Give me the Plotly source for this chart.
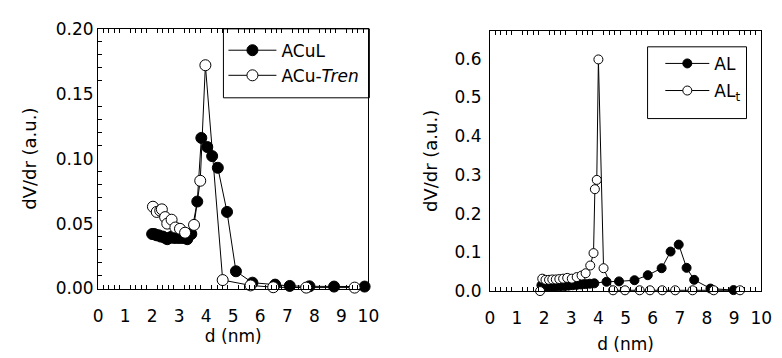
import plotly.graph_objects as go

# Left panel
acul_x = [2.00, 2.08, 2.16, 2.24, 2.32, 2.40, 2.48, 2.56, 2.64, 2.72, 2.80, 2.90, 3.00, 3.10, 3.20, 3.30, 3.45, 3.67, 3.82, 4.04, 4.22, 4.43, 4.77, 5.10, 5.71, 6.55, 7.09, 7.82, 8.73, 9.86]
acul_y = [0.042, 0.042, 0.041, 0.041, 0.040, 0.040, 0.039, 0.038, 0.039, 0.040, 0.039, 0.039, 0.039, 0.039, 0.039, 0.038, 0.042, 0.067, 0.116, 0.109, 0.102, 0.093, 0.059, 0.0133, 0.0045, 0.003, 0.002, 0.0017, 0.0015, 0.0015]
tren_x = [2.03, 2.17, 2.30, 2.36, 2.48, 2.56, 2.72, 2.86, 3.03, 3.22, 3.55, 3.78, 3.97, 4.61, 5.64, 6.48, 7.70, 9.49]
tren_y = [0.063, 0.059, 0.060, 0.061, 0.055, 0.050, 0.053, 0.047, 0.046, 0.043, 0.049, 0.083, 0.172, 0.0065, 0.0024, 0.001, 0.0007, 0.0007]

# Right panel
al_x = [1.90, 2.00, 2.10, 2.22, 2.35, 2.48, 2.62, 2.76, 2.90, 3.05, 3.20, 3.36, 3.52, 3.68, 3.85, 4.30, 4.76, 5.33, 5.82, 6.33, 6.66, 6.96, 7.25, 7.53, 8.13, 8.98]
al_y = [0.015, 0.013, 0.012, 0.012, 0.012, 0.012, 0.013, 0.013, 0.014, 0.015, 0.016, 0.017, 0.018, 0.019, 0.020, 0.024, 0.025, 0.028, 0.041, 0.059, 0.102, 0.120, 0.060, 0.029, 0.0065, 0.0025]
alt_x = [1.85, 1.93, 2.05, 2.18, 2.30, 2.43, 2.56, 2.70, 2.85, 3.02, 3.20, 3.38, 3.53, 3.70, 3.82, 3.87, 3.94, 4.00, 4.19, 4.54, 4.98, 5.52, 5.90, 6.35, 6.83, 7.47, 8.25, 9.22]
alt_y = [0.000, 0.032, 0.029, 0.029, 0.030, 0.030, 0.031, 0.032, 0.034, 0.032, 0.036, 0.040, 0.046, 0.066, 0.098, 0.263, 0.287, 0.598, 0.059, 0.002, 0.002, 0.002, 0.002, 0.002, 0.002, 0.002, 0.002, 0.002]

W, H = 782, 358
FONT = "DejaVu Sans"
CLEAR = "rgba(0,0,0,0)"

fig = go.Figure()

def add(x, y, name, filled, xa, ya, legend, group, size):
    fig.add_trace(go.Scatter(
        x=x, y=y, name=name, mode="lines+markers", xaxis=xa, yaxis=ya,
        legend=legend, legendgroup=group, cliponaxis=False,
        line=dict(color="black", width=1),
        marker=dict(size=size, color="black" if filled else "white",
                    line=dict(color="black", width=1)),
    ))

add(acul_x, acul_y, "ACuL", True, "x", "y", "legend", "a", 11)
add(tren_x, tren_y, "ACu-<i>Tren</i>", False, "x", "y", "legend", "b", 11)
add(al_x, al_y, "AL", True, "x2", "y2", "legend2", "c", 9)
add(alt_x, alt_y, "AL<sub>t</sub>", False, "x2", "y2", "legend2", "d", 9)

def xd(a, b):
    return [a / W, b / W]

def yd(top, bottom):
    return [(H - bottom) / H, (H - top) / H]

def xaxis_cfg(dom, anchor, standoff):
    return dict(domain=dom, anchor=anchor, range=[0, 10], dtick=1, tick0=0, showline=True,
                linecolor="black", linewidth=1, mirror="ticks",
                ticks="inside", ticklen=4, tickcolor=CLEAR, showgrid=False,
                zeroline=False, ticklabelstandoff=12,
                tickfont=dict(family=FONT, size=17, color="black"),
                minor=dict(ticks="inside", ticklen=4, dtick=0.2, tickcolor="black", showgrid=False),
                title=dict(text="d (nm)", font=dict(family=FONT, size=17, color="black"), standoff=standoff))

fig.update_layout(
    width=W, height=H, margin=dict(l=0, r=0, t=0, b=0),
    paper_bgcolor="white", plot_bgcolor="white",
    font=dict(family=FONT, size=16, color="black"),
    xaxis=xaxis_cfg(xd(95, 371), "y", 4),
    yaxis=dict(domain=yd(20, 295), anchor="x", range=[0, 0.2], dtick=0.05, tickformat=".2f",
               showline=True, linecolor="black", linewidth=1, mirror=True,
               ticks="inside", ticklen=4, tickcolor=CLEAR,
               showgrid=False, zeroline=False, ticklabelstandoff=0,
               tickfont=dict(family=FONT, size=17, color="black"),
               minor=dict(ticks="inside", ticklen=4, dtick=0.01, tickcolor="black", showgrid=False),
               title=dict(text="dV/dr (a.u.)", font=dict(family=FONT, size=18, color="black"), standoff=14)),
    xaxis2=xaxis_cfg(xd(495, 772), "y2", 10),
    yaxis2=dict(domain=yd(22, 297.7), anchor="x2", range=[0, 0.672], dtick=0.1, tickformat=".1f",
                showline=True, linecolor="black", linewidth=1, mirror=True,
                ticks="inside", ticklen=4, tickcolor=CLEAR,
                showgrid=False, zeroline=False, ticklabelstandoff=4,
                tickfont=dict(family=FONT, size=17, color="black"),
                title=dict(text="dV/dr (a.u.)", font=dict(family=FONT, size=18, color="black"), standoff=12)),
    legend=dict(x=223 / W, y=1 - 24 / H, xanchor="left", yanchor="top", bgcolor=CLEAR,
                borderwidth=0, tracegroupgap=0, itemwidth=48,
                font=dict(family=FONT, size=17, color="black")),
    legend2=dict(x=669 / W, y=1 - 38 / H, xanchor="left", yanchor="top", bgcolor=CLEAR,
                 borderwidth=0, tracegroupgap=2, itemwidth=44,
                 font=dict(family=FONT, size=17, color="black")),
    shapes=[
        dict(type="rect", xref="paper", yref="paper", x0=223 / W, x1=372 / W,
             y0=1 - 93 / H, y1=1 - 20 / H, line=dict(color="black", width=1),
             fillcolor="white", layer="below"),
        dict(type="rect", xref="paper", yref="paper", x0=656 / W, x1=757 / W,
             y0=1 - 115 / H, y1=1 - 39 / H, line=dict(color="black", width=1),
             fillcolor="white", layer="below"),
    ],
    showlegend=True,
)

fig.write_html("out.html")
